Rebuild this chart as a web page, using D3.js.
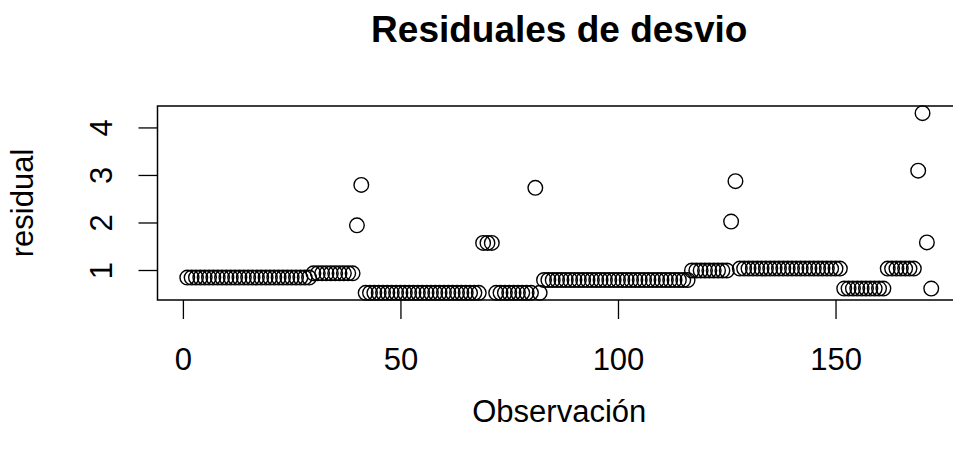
<!DOCTYPE html>
<html>
<head>
<meta charset="utf-8">
<script src="https://cdn.jsdelivr.net/npm/d3@7"></script>
<style>
    body { margin: 0; background: #fff; }
    text { font-family: "Liberation Sans", Arial, sans-serif; }
</style>
</head>
<body>
<div class="residual-chart"></div>
<script>
// deviance residuals, one per observation (index = position + 1)
const residuals = [
    0.84, 0.84, 0.84, 0.84, 0.84, 0.84, 0.84, 0.84, 0.84, 0.84,
    0.84, 0.84, 0.84, 0.84, 0.84, 0.84, 0.84, 0.84, 0.84, 0.84,
    0.84, 0.84, 0.84, 0.84, 0.84, 0.84, 0.84, 0.84, 0.84,
    0.93, 0.93, 0.93, 0.93, 0.93, 0.93, 0.93, 0.93, 0.93, 0.93,
    1.94, 2.79,
    0.52, 0.52, 0.52, 0.52, 0.52, 0.52, 0.52, 0.52, 0.52, 0.52,
    0.52, 0.52, 0.52, 0.52, 0.52, 0.52, 0.52, 0.52, 0.52, 0.52,
    0.52, 0.52, 0.52, 0.52, 0.52, 0.52, 0.52,
    1.57, 1.57, 1.57,
    0.52, 0.52, 0.52, 0.52, 0.52, 0.52, 0.52, 0.52, 0.52,
    2.73, 0.52,
    0.79, 0.79, 0.79, 0.79, 0.79, 0.79, 0.79, 0.79, 0.79, 0.79,
    0.79, 0.79, 0.79, 0.79, 0.79, 0.79, 0.79, 0.79, 0.79, 0.79,
    0.79, 0.79, 0.79, 0.79, 0.79, 0.79, 0.79, 0.79, 0.79, 0.79,
    0.79, 0.79, 0.79, 0.79,
    0.99, 0.99, 0.99, 0.99, 0.99, 0.99, 0.99, 0.99, 0.99,
    2.02, 2.87,
    1.03, 1.03, 1.03, 1.03, 1.03, 1.03, 1.03, 1.03, 1.03, 1.03,
    1.03, 1.03, 1.03, 1.03, 1.03, 1.03, 1.03, 1.03, 1.03, 1.03,
    1.03, 1.03, 1.03, 1.03,
    0.61, 0.61, 0.61, 0.61, 0.61, 0.61, 0.61, 0.61, 0.61, 0.61,
    1.03, 1.03, 1.03, 1.03, 1.03, 1.03, 1.03,
    3.09, 4.30, 1.58, 0.61
];
const xTicks = [0, 50, 100, 150];
const yTicks = [1, 2, 3, 4];

const title = 'Residuales de desvio';
const xLabel = 'Observación';
const yLabel = 'residual';

createScatter();

function createScatter() {
    const width = 953;
    const height = 451;
    // plot region (right edge runs past the picture, as in the original)
    const left = 157.5, right = 961, top = 106, bottom = 300;
    const tickLen = 19;
    const fontSize = '31px';

    const svg = d3.select('.residual-chart')
        .append('svg')
        .attr('width', width)
        .attr('height', height);

    // R style 4% padding on both axes
    const n = residuals.length;
    const xPad = (n - 1) * 0.04;
    const yMin = d3.min(residuals), yMax = d3.max(residuals);
    const yPad = (yMax - yMin) * 0.04;

    const x = d3.scaleLinear()
        .domain([1 - xPad, n + xPad])
        .range([left, right]);
    const y = d3.scaleLinear()
        .domain([yMin - yPad, yMax + yPad])
        .range([bottom, top]);

    // x axis
    const xAxis = svg.append('g')
        .attr('transform', `translate(0,${bottom})`)
        .call(d3.axisBottom(x).tickValues(xTicks).tickFormat(d3.format('d'))
            .tickSize(tickLen).tickSizeOuter(0));
    xAxis.select('.domain').remove();
    xAxis.selectAll('line').attr('stroke', '#000').attr('stroke-width', 1.3);
    xAxis.selectAll('text')
        .attr('y', 70)
        .attr('dy', 0)
        .attr('font-size', fontSize)
        .attr('font-family', '"Liberation Sans", Arial, sans-serif')
        .attr('fill', '#000');

    // y axis, labels turned like R's las = 0
    const yAxis = svg.append('g')
        .attr('transform', `translate(${left},0)`)
        .call(d3.axisLeft(y).tickValues(yTicks).tickFormat(d3.format('d'))
            .tickSize(tickLen).tickSizeOuter(0));
    yAxis.select('.domain').remove();
    yAxis.selectAll('line').attr('stroke', '#000').attr('stroke-width', 1.3);
    yAxis.selectAll('text')
        .attr('x', null)
        .attr('dy', 0)
        .attr('transform', 'translate(-45.5,0) rotate(-90)')
        .attr('text-anchor', 'middle')
        .attr('font-size', fontSize)
        .attr('font-family', '"Liberation Sans", Arial, sans-serif')
        .attr('fill', '#000');

    // points
    svg.selectAll('.pt')
        .data(residuals)
        .enter()
        .append('circle')
        .attr('class', 'pt')
        .attr('cx', (d, i) => x(i + 1))
        .attr('cy', d => y(d))
        .attr('r', 7.3)
        .attr('fill', 'none')
        .attr('stroke', '#000')
        .attr('stroke-width', 1.4);

    // box
    svg.append('rect')
        .attr('x', left)
        .attr('y', top)
        .attr('width', right - left)
        .attr('height', bottom - top)
        .attr('fill', 'none')
        .attr('stroke', '#000')
        .attr('stroke-width', 1.5);

    // title and axis labels
    const mid = (left + right) / 2;
    svg.append('text')
        .text(title)
        .attr('x', mid)
        .attr('y', 42)
        .attr('text-anchor', 'middle')
        .attr('font-weight', 'bold')
        .attr('font-size', '37px');
    svg.append('text')
        .text(xLabel)
        .attr('x', mid)
        .attr('y', 422)
        .attr('text-anchor', 'middle')
        .attr('font-size', fontSize);
    svg.append('text')
        .text(yLabel)
        .attr('transform', `translate(33,${(top + bottom) / 2}) rotate(-90)`)
        .attr('text-anchor', 'middle')
        .attr('font-size', fontSize);
}
</script>
</body>
</html>
